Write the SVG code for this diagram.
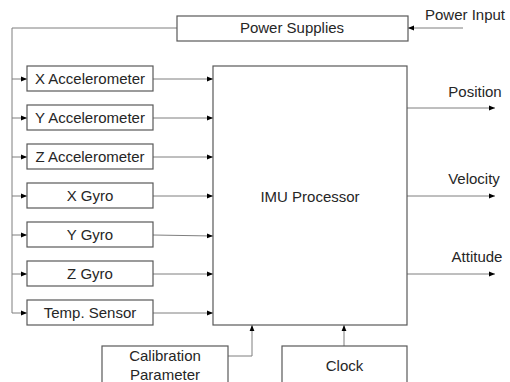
<svg xmlns="http://www.w3.org/2000/svg" width="510" height="382" viewBox="0 0 510 382">
<style>
.box{fill:#fff;stroke:#595959;stroke-width:1.2}
.ln{fill:none;stroke:#7f7f7f;stroke-width:1}
text{font-family:"Liberation Sans",Arial,sans-serif;font-size:15px;fill:#262626;text-anchor:middle}
</style>
<defs>
<marker id="ah" viewBox="0 0 10 10" refX="10" refY="5" markerWidth="6" markerHeight="6" markerUnits="userSpaceOnUse" orient="auto">
<path d="M0,1 L10,5 L0,9 z" fill="#000"/>
</marker>
</defs>
<rect width="510" height="382" fill="#fff"/>
<g id="connectors">
<line class="ln" x1="463" y1="28" x2="408" y2="28" marker-end="url(#ah)"/>
<polyline class="ln" points="177,28 12,28 12,313"/>
<line class="ln" x1="12" y1="79" x2="27" y2="79" marker-end="url(#ah)"/>
<line class="ln" x1="12" y1="118" x2="27" y2="118" marker-end="url(#ah)"/>
<line class="ln" x1="12" y1="157" x2="27" y2="157" marker-end="url(#ah)"/>
<line class="ln" x1="12" y1="196" x2="27" y2="196" marker-end="url(#ah)"/>
<line class="ln" x1="12" y1="235" x2="27" y2="235" marker-end="url(#ah)"/>
<line class="ln" x1="12" y1="274" x2="27" y2="274" marker-end="url(#ah)"/>
<polyline class="ln" points="12,313 27,313" marker-end="url(#ah)"/>
<line class="ln" x1="153" y1="79" x2="213" y2="79" marker-end="url(#ah)"/>
<line class="ln" x1="153" y1="118" x2="213" y2="118" marker-end="url(#ah)"/>
<line class="ln" x1="153" y1="157" x2="213" y2="157" marker-end="url(#ah)"/>
<line class="ln" x1="153" y1="196" x2="213" y2="196" marker-end="url(#ah)"/>
<line class="ln" x1="153" y1="235" x2="213" y2="236" marker-end="url(#ah)"/>
<line class="ln" x1="153" y1="274" x2="213" y2="274" marker-end="url(#ah)"/>
<line class="ln" x1="153" y1="313" x2="213" y2="313" marker-end="url(#ah)"/>
<line class="ln" x1="407" y1="108" x2="495" y2="108" marker-end="url(#ah)"/>
<line class="ln" x1="407" y1="196" x2="495" y2="196" marker-end="url(#ah)"/>
<line class="ln" x1="407" y1="274" x2="495" y2="274" marker-end="url(#ah)"/>
<polyline class="ln" points="228,356 252,356 252,325" marker-end="url(#ah)"/>
<line class="ln" x1="344" y1="346" x2="344" y2="325" marker-end="url(#ah)"/>
</g>
<g id="power-supplies"><rect class="box" x="177" y="16" width="231" height="25"/><text x="292" y="33">Power Supplies</text></g>
<g id="power-input"><text x="465" y="20">Power Input</text></g>
<g id="x-accel"><rect class="box" x="27" y="66" width="126" height="25"/><text x="90" y="84">X Accelerometer</text></g>
<g id="y-accel"><rect class="box" x="27" y="105" width="126" height="25"/><text x="90" y="123">Y Accelerometer</text></g>
<g id="z-accel"><rect class="box" x="27" y="144" width="126" height="25"/><text x="90" y="162">Z Accelerometer</text></g>
<g id="x-gyro"><rect class="box" x="27" y="183" width="126" height="25"/><text x="90" y="201">X Gyro</text></g>
<g id="y-gyro"><rect class="box" x="27" y="222" width="126" height="25"/><text x="90" y="240">Y Gyro</text></g>
<g id="z-gyro"><rect class="box" x="27" y="261" width="126" height="25"/><text x="90" y="279">Z Gyro</text></g>
<g id="temp-sensor"><rect class="box" x="27" y="300" width="126" height="25"/><text x="90" y="318">Temp. Sensor</text></g>
<g id="imu"><rect class="box" x="213" y="66" width="194" height="259"/><text x="310" y="202">IMU Processor</text></g>
<g id="position"><text x="475" y="97">Position</text></g>
<g id="velocity"><text x="474" y="184">Velocity</text></g>
<g id="attitude"><text x="477" y="262">Attitude</text></g>
<g id="calibration"><rect class="box" x="102" y="346" width="126" height="50"/><text x="165" y="361">Calibration</text><text x="165" y="380">Parameter</text></g>
<g id="clock"><rect class="box" x="282" y="346" width="125" height="50"/><text x="344.5" y="371">Clock</text></g>
</svg>
